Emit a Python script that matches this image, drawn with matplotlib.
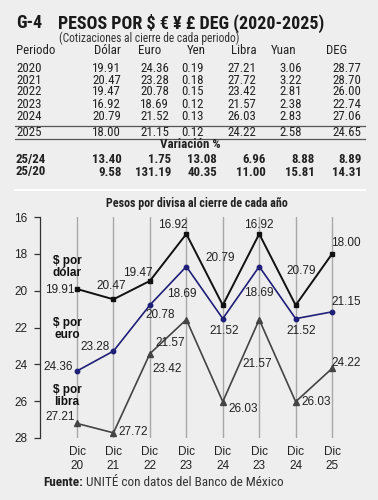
import matplotlib
matplotlib.use("Agg")
import matplotlib.pyplot as plt

# tabla
periodos = ['2020', '2021', '2022', '2023', '2024', '2025']
columnas = ['Dólar', 'Euro', 'Yen', 'Libra', 'Yuan', 'DEG']
dolar_t = [19.91, 20.47, 19.47, 16.92, 20.79, 18.00]
euro_t = [24.36, 23.28, 20.78, 18.69, 21.52, 21.15]
yen_t = [0.19, 0.18, 0.15, 0.12, 0.13, 0.12]
libra_t = [27.21, 27.72, 23.42, 21.57, 26.03, 24.22]
yuan_t = [3.06, 3.22, 2.81, 2.38, 2.83, 2.58]
deg_t = [28.77, 28.70, 26.00, 22.74, 27.06, 24.65]
var_nombres = ['25/24', '25/20']
var_2524 = [13.40, 1.75, 13.08, 6.96, 8.88, 8.89]
var_2520 = [9.58, 131.19, 40.35, 11.00, 15.81, 14.31]

# grafica
meses = ['Dic\n20', 'Dic\n21', 'Dic\n22', 'Dic\n23', 'Dic\n24', 'Dic\n23', 'Dic\n24', 'Dic\n25']
dolar = [19.91, 20.47, 19.47, 16.92, 20.79, 16.92, 20.79, 18.00]
euro = [24.36, 23.28, 20.78, 18.69, 21.52, 18.69, 21.52, 21.15]
libra = [27.21, 27.72, 23.42, 21.57, 26.03, 21.57, 26.03, 24.22]

W, H = 378, 500
BG = '#eeeeee'
NARROW = ['Roboto Condensed', 'Liberation Sans Narrow', 'Roboto', 'DejaVu Sans']
ARIAL = ['Liberation Sans', 'DejaVu Sans']

fig = plt.figure(figsize=(W / 100, H / 100), dpi=100, facecolor=BG)
rend = fig.canvas.get_renderer()


def px(x, y):
    return x / W, 1 - y / H


def txt(x, y, s, **kw):
    kw.setdefault('family', NARROW)
    kw.setdefault('color', '#222222')
    kw.setdefault('va', 'center')
    return fig.text(*px(x, y), s, **kw)


def fit(t, ancho):
    # ajusta el tamaño para que el texto mida 'ancho' pixeles
    w = t.get_window_extent(rend).width
    t.set_fontsize(t.get_fontsize() * ancho / w)


def hline(y, x0=15, x1=365, **kw):
    fig.add_artist(plt.Line2D([x0 / W, x1 / W], [1 - y / H, 1 - y / H], transform=fig.transFigure, **kw))


# titulo
txt(16, 23, 'G-4', fontsize=13, weight='bold', color='#1a1a1a')
txt(58, 23, 'PESOS POR $ € ¥ £ DEG (2020-2025)', fontsize=13, weight='bold', color='#1a1a1a')
t3 = txt(59, 38, '(Cotizaciones al cierre de cada periodo)', fontsize=8.5, color='#333333')
fit(t3, 181)

# encabezados
FS = 9.3
txt(16, 51, 'Periodo', fontsize=FS)
head_x = [107, 150, 196, 244, 284, 337]
for hx, c in zip(head_x, columnas):
    txt(hx, 51, c, fontsize=FS, ha='center')

col_x = [121, 169, 204, 256, 302, 361]
row_y = [68, 80, 92, 104, 116, 133]
datos = [dolar_t, euro_t, yen_t, libra_t, yuan_t, deg_t]
for i, p in enumerate(periodos):
    txt(16, row_y[i], p, fontsize=FS)
    for cx, serie in zip(col_x, datos):
        txt(cx, row_y[i], f'{serie[i]:.2f}', fontsize=FS, ha='right')

hline(126, color='#555555', lw=0.9)
hline(138.5, color='#555555', lw=0.9)

txt(190, 145, 'Variación %', fontsize=FS, weight='bold', ha='center')
var_x = [122, 171, 217, 266, 315, 362]
for ry, nombre, vals in zip([159, 172], var_nombres, [var_2524, var_2520]):
    txt(16, ry, nombre, fontsize=FS, weight='bold')
    for vx, v in zip(var_x, vals):
        txt(vx, ry, f'{v:.2f}', fontsize=FS, weight='bold', ha='right')

hline(190, color='white', lw=1.5)
t4 = txt(197, 203, 'Pesos por divisa al cierre de cada año', fontsize=8.5, weight='bold', ha='center')
fit(t4, 181)

# ejes
ax = fig.add_axes([40 / W, 1 - 438 / H, 330 / W, 221 / H])
ax.set_facecolor(BG)
x = list(range(len(meses)))

ax.plot(x, dolar, color='#111111', lw=1.4, marker='s', ms=3.2)
ax.plot(x, euro, color='#1f1f78', lw=1.2, marker='o', ms=3.2)
ax.plot(x, libra, color='#444444', lw=1.2, marker='^', ms=3.8)

ax.set_ylim(28, 16)
ax.set_xlim(-1.016, 8.04)
ax.set_yticks([16, 18, 20, 22, 24, 26, 28])
ax.set_xticks(x)
ax.set_xticklabels(meses, family=ARIAL, fontsize=8.5, color='#222222', linespacing=1.15)
for t in ax.get_yticklabels():
    t.set_family(ARIAL)
    t.set_fontsize(8.5)
    t.set_color('#222222')
ax.tick_params(axis='x', length=0, pad=6)
ax.tick_params(axis='y', length=4, width=0.9, color='#333333', pad=5)
ax.grid(axis='x', color='#a8a8a8', lw=1)
ax.set_axisbelow(True)
for s in ['top', 'right', 'bottom']:
    ax.spines[s].set_visible(False)
ax.spines['left'].set_color('#333333')
ax.spines['left'].set_linewidth(0.9)

off_dolar = [(-17, -1), (-2, 13), (-12, 8), (-14, 9), (-3, 47), (0, 9), (6, 34), (14, 11)]
off_euro = [(-19, 4), (-18, 4), (10, -10), (-5, -27), (1, -12), (0, -26), (6, -12), (14, 10)]
off_libra = [(-17, 6), (20, 1), (17, -15), (-16, -23), (20, -7), (-2, -44), (21, 0), (14, 5)]
for serie, offs in [(dolar, off_dolar), (euro, off_euro), (libra, off_libra)]:
    for xi, v, (dx, dy) in zip(x, serie, offs):
        ax.annotate(f'{v:.2f}', (xi, v), xytext=(dx, dy), textcoords='offset pixels',
                    ha='center', va='center', fontsize=8.5, family=ARIAL, color='#222222')

for s, y in [('$ por\ndólar', 267), ('$ por\neuro', 329), ('$ por\nlibra', 396)]:
    txt(67, y, s, fontsize=8.5, weight='bold', ha='center', family=ARIAL, linespacing=1.0, color='#111111')

# fuente
f1 = txt(43, 482, 'Fuente:', fontsize=9.5, weight='bold')
x_fin = f1.get_window_extent(rend).x1
txt(x_fin + 3, 482, 'UNITÉ con datos del Banco de México', fontsize=9.5, color='#333333')

fig.savefig('out.png', dpi=100, facecolor=BG)
